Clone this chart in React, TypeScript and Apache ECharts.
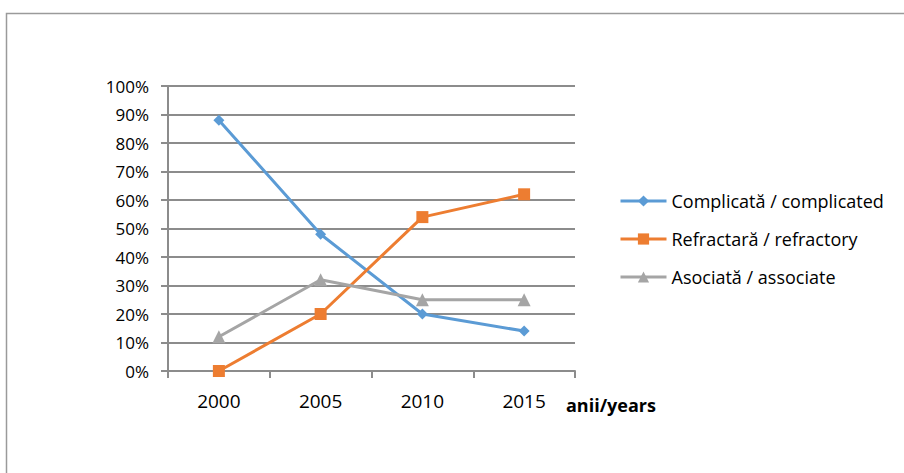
import React, { useEffect, useRef } from "react";
import * as echarts from "echarts";

const years = ["2000", "2005", "2010", "2015"];
const complicated = [0.88, 0.48, 0.2, 0.14];
const refractory = [0, 0.2, 0.54, 0.62];
const associate = [0.12, 0.32, 0.25, 0.25];
const seriesNames = [
  "Complicată / complicated",
  "Refractară / refractory",
  "Asociată / associate",
];
const axisName = "anii/years";

const FONT = "'Open Sans', 'Noto Sans', sans-serif";

export default function App() {
  const ref = useRef<HTMLDivElement>(null);
  useEffect(() => {
    const chart = echarts.init(ref.current!, null, { renderer: "svg" });
    const mk = (name: string, data: number[], color: string, symbol: string, size: number) => ({
      name,
      type: "line",
      data,
      symbol,
      symbolSize: size,
      showSymbol: true,
      lineStyle: { color, width: 3 },
      itemStyle: { color },
    });
    chart.setOption({
      animation: false,
      textStyle: { fontFamily: FONT },
      grid: { left: 168, right: 329, top: 86, bottom: 102, containLabel: false },
      xAxis: {
        type: "category",
        data: years,
        boundaryGap: true,
        axisLine: { show: true, lineStyle: { color: "#8c8c8c", width: 2 } },
        axisTick: { show: true, length: 7, lineStyle: { color: "#8c8c8c", width: 2 } },
        axisLabel: { color: "#000", fontSize: 19, margin: 20, fontFamily: FONT },
        splitLine: { show: false },
      },
      yAxis: {
        type: "value",
        min: 0,
        max: 1,
        interval: 0.1,
        axisLine: { show: true, lineStyle: { color: "#8c8c8c", width: 2 } },
        axisTick: { show: true, length: 7, lineStyle: { color: "#8c8c8c", width: 2 } },
        axisLabel: {
          color: "#000",
          fontSize: 17,
          margin: 19,
          fontFamily: FONT,
          formatter: (v: number) => Math.round(v * 100) + "%",
        },
        splitLine: { show: true, lineStyle: { color: "#8c8c8c", width: 2 } },
      },
      legend: {
        orient: "vertical",
        left: 619,
        top: 192,
        padding: 0,
        itemWidth: 46,
        itemHeight: 14,
        itemGap: 20,
        data: seriesNames,
        lineStyle: { width: 3 },
        textStyle: { color: "#000", fontSize: 18, fontFamily: FONT },
      },
      graphic: [
        {
          type: "rect",
          shape: { x: 6.5, y: 13.5, width: 1000, height: 600 },
          style: { fill: "none", stroke: "#9a9a9a", lineWidth: 1.5 },
          silent: true,
        },
        {
          type: "text",
          left: 566,
          top: 396,
          style: {
            text: axisName,
            fontSize: 18,
            fontWeight: "bold",
            fill: "#000",
            fontFamily: FONT,
          },
        },
      ],
      series: [
        mk(seriesNames[0], complicated, "#5B9BD5", "diamond", 11),
        mk(seriesNames[1], refractory, "#ED7D31", "rect", 12),
        mk(seriesNames[2], associate, "#A5A5A5", "triangle", 13),
      ],
    });
    return () => chart.dispose();
  }, []);
  return (
    <div
      ref={ref}
      style={{ position: "fixed", left: 0, top: 0, width: 904, height: 473, background: "#fff" }}
    />
  );
}
